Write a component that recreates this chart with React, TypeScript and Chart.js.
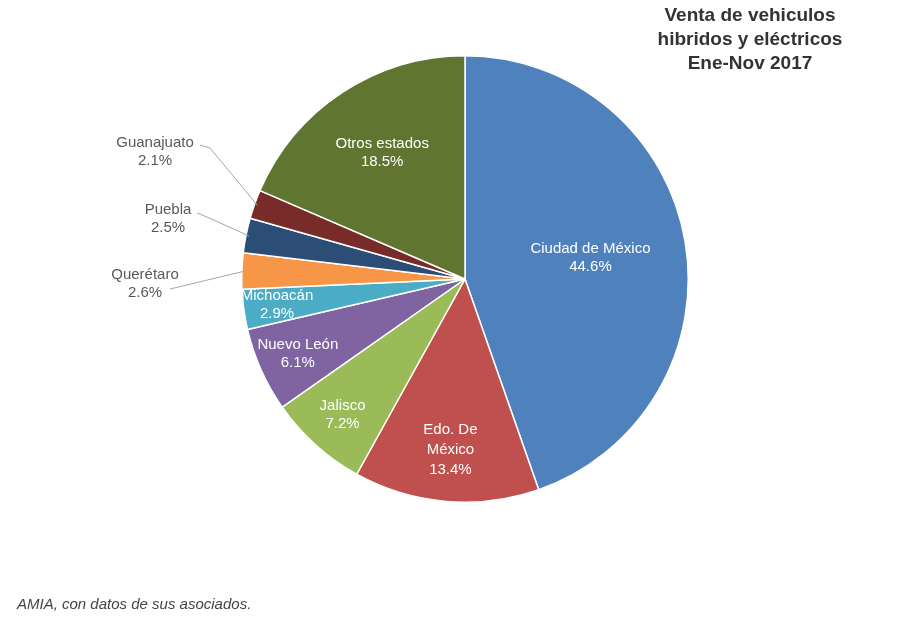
import { useEffect, useRef } from 'react';
import { Chart, registerables } from 'chart.js';

Chart.register(...registerables);

const estados = [
    'Ciudad de México',
    'Edo. De México',
    'Jalisco',
    'Nuevo León',
    'Michoacán',
    'Querétaro',
    'Puebla',
    'Guanajuato',
    'Otros estados',
];
const porcentajes = [44.6, 13.4, 7.2, 6.1, 2.9, 2.6, 2.5, 2.1, 18.5];
const colores = ['#4f81bd', '#c0504d', '#9bbb59', '#8064a2', '#4bacc6', '#f79646', '#2c4d75', '#772c2a', '#5f7530'];

// lineas de cada etiqueta (la de Edo. De México va en dos renglones)
const lineasEtiqueta: Record<string, string[]> = {
    'Edo. De México': ['Edo. De', 'México'],
};

// distancia del texto al centro, como fraccion del radio
const radioEtiqueta: Record<string, number> = {
    'Ciudad de México': 0.57,
    'Edo. De México': 0.77,
    'Jalisco': 0.82,
    'Nuevo León': 0.82,
    'Michoacán': 0.85,
    'Otros estados': 0.675,
};

// etiquetas fuera del pastel: posicion del texto respecto al centro y quiebre de la linea
const etiquetaExterna: Record<string, { dx: number; dy: number; lx: number; ly: number; kx: number; ky: number }> = {
    'Guanajuato': { dx: -310, dy: -127, lx: -265, ly: -134, kx: -255, ky: -131 },
    'Puebla': { dx: -297, dy: -60, lx: -268, ly: -66, kx: -258, ky: -62 },
    'Querétaro': { dx: -320, dy: 5, lx: -295, ly: 10, kx: -295, ky: 10 },
};

const etiquetas = {
    id: 'etiquetas',
    afterDatasetsDraw(chart: any) {
        const ctx = chart.ctx;
        const meta = chart.getDatasetMeta(0);
        ctx.save();
        ctx.font = '15px "Liberation Sans", Arial, sans-serif';
        ctx.textAlign = 'center';
        ctx.textBaseline = 'middle';
        meta.data.forEach((arc: any, i: number) => {
            const nombre = estados[i];
            const texto = (lineasEtiqueta[nombre] || [nombre]).concat(porcentajes[i].toFixed(1) + '%');
            const { x, y, startAngle, endAngle, outerRadius } = arc.getProps(['x', 'y', 'startAngle', 'endAngle', 'outerRadius'], true);
            const mid = (startAngle + endAngle) / 2;
            const ext = etiquetaExterna[nombre];
            if (ext) {
                const ex = x + Math.cos(mid) * (outerRadius - 3);
                const ey = y + Math.sin(mid) * (outerRadius - 3);
                ctx.strokeStyle = '#a6a6a6';
                ctx.lineWidth = 1;
                ctx.beginPath();
                ctx.moveTo(x + ext.lx, y + ext.ly);
                ctx.lineTo(x + ext.kx, y + ext.ky);
                ctx.lineTo(ex, ey);
                ctx.stroke();
                ctx.fillStyle = '#595959';
                const y0 = y + ext.dy - ((texto.length - 1) * 18) / 2;
                texto.forEach((t, j) => ctx.fillText(t, x + ext.dx, y0 + j * 18));
            } else {
                const f = radioEtiqueta[nombre] ?? 0.7;
                const cx = x + Math.cos(mid) * outerRadius * f;
                const cy = y + Math.sin(mid) * outerRadius * f;
                const paso = texto.length > 2 ? 20 : 18;
                ctx.fillStyle = '#ffffff';
                const y0 = cy - ((texto.length - 1) * paso) / 2;
                texto.forEach((t, j) => ctx.fillText(t, cx, y0 + j * paso));
            }
        });
        ctx.restore();
    },
};

const App = () => {
    const chartRef = useRef<HTMLCanvasElement | null>(null);

    useEffect(() => {
        const canvas = chartRef.current;
        if (!canvas) return;

        const grafica = new Chart(canvas, {
            type: 'pie',
            data: {
                labels: estados,
                datasets: [{
                    data: porcentajes,
                    backgroundColor: colores,
                    borderColor: '#ffffff',
                    borderWidth: 1.5,
                }],
            },
            options: {
                responsive: false,
                animation: false,
                layout: {
                    padding: { left: 241, right: 225, top: 55, bottom: 117 },
                },
                plugins: {
                    legend: { display: false },
                    tooltip: { enabled: false },
                },
            },
            plugins: [etiquetas],
        });

        return () => {
            grafica.destroy();
        };
    }, []);

    return (
        <div style={{ position: 'absolute', left: 0, top: 0, width: 914, height: 620, background: '#fff', fontFamily: '"Liberation Sans", Arial, sans-serif' }}>
            <canvas ref={chartRef} width={914} height={620} style={{ position: 'absolute', left: 0, top: 0 }}></canvas>
            <div style={{ position: 'absolute', left: 600, top: 3, width: 300, textAlign: 'center', fontWeight: 'bold', fontSize: 19, lineHeight: '24px', color: '#333' }}>
                Venta de vehiculos<br />hibridos y eléctricos<br />Ene-Nov 2017
            </div>
            <div style={{ position: 'absolute', left: 17, top: 595, fontStyle: 'italic', fontSize: 15, color: '#444' }}>
                AMIA, con datos de sus asociados.
            </div>
        </div>
    );
};

export default App;
